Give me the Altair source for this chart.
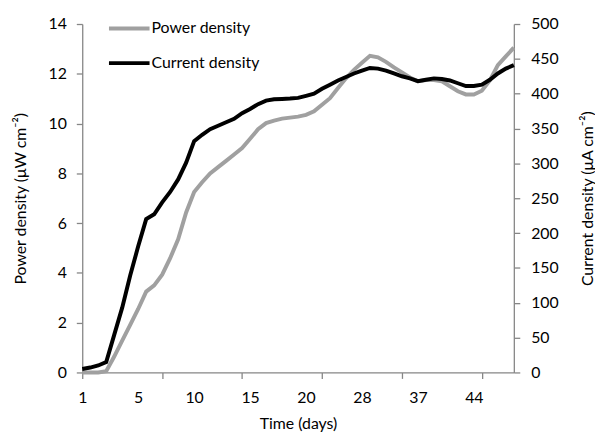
import json
import altair as alt
import pandas as pd

# ---- data ----
day_index = list(range(55))
power_density = [0, 0, 0, 0.05, 0.64, 1.28, 1.91, 2.55, 3.25, 3.5,
                 3.93, 4.59, 5.35, 6.43, 7.25, 7.64, 8.0, 8.25, 8.5, 8.76,
                 9.02, 9.39, 9.77, 10.02, 10.12, 10.2, 10.24, 10.28, 10.35, 10.49,
                 10.76, 11.02, 11.43, 11.82, 12.16, 12.44, 12.72, 12.66, 12.48, 12.26,
                 12.06, 11.85, 11.7, 11.75, 11.75, 11.7, 11.5, 11.3, 11.17, 11.17,
                 11.32, 11.73, 12.35, 12.7, 13.05]
current_density = [5, 7, 10, 15, 54, 93, 139, 181, 220, 227,
                   244, 259, 277, 301, 332, 341, 349, 354, 359, 364,
                   372, 378, 385, 390, 392, 392.5, 393, 394, 397, 400,
                   407, 413, 419, 424, 429, 433, 437, 436, 433, 429,
                   425, 422, 418, 420, 422, 421, 419, 415, 411, 411,
                   413, 420, 429, 436, 441]
label_positions = [0, 7, 14, 21, 28, 35, 42, 49]
day_labels = ["1", "5", "10", "15", "20", "28", "37", "44"]
tick_positions = [0, 10, 20, 30, 40, 50]
series_names = ["Power density", "Current density"]
series_colors = ["#a0a0a0", "#000000"]

df_p = pd.DataFrame({"idx": day_index, "value": power_density, "series": series_names[0]})
df_c = pd.DataFrame({"idx": day_index, "value": current_density, "series": series_names[1]})

axis_values = sorted(set(label_positions) | set(tick_positions))
lp = json.dumps(label_positions)
dl = json.dumps(day_labels)
tp = json.dumps(tick_positions)
label_expr = f"indexof({lp}, datum.value) >= 0 ? {dl}[indexof({lp}, datum.value)] : ''"

FONT = "Lato"

x_enc = alt.X(
    "idx:Q",
    scale=alt.Scale(domain=[0, 54], nice=False, zero=False),
    axis=alt.Axis(
        values=axis_values, labelExpr=label_expr,
        tickOpacity={"condition": {"test": f"indexof({tp}, datum.value) >= 0", "value": 1}, "value": 0},
        title="Time (days)", grid=False, labelFlush=False, labelOverlap=False,
        tickSize=6, labelPadding=11, titleX=218, titleY=52,
        titleBaseline="middle", titleAlign="center",
    ),
)

color_enc = alt.Color(
    "series:N",
    scale=alt.Scale(domain=series_names, range=series_colors),
    legend=alt.Legend(
        title=None, orient="none", legendX=25, legendY=-18,
        symbolType="stroke", symbolSize=1681, symbolStrokeWidth=4,
        labelFontSize=16, labelFont=FONT, labelColor="#000000",
        labelOffset=0, rowPadding=4, labelLimit=0,
    ),
)

power = alt.Chart(df_p).mark_line(strokeWidth=4).encode(
    x=x_enc,
    y=alt.Y(
        "value:Q",
        scale=alt.Scale(domain=[0, 14], nice=False),
        axis=alt.Axis(
            values=list(range(0, 15, 2)), orient="left", grid=False,
            title="Power density (μW cm⁻²)", tickSize=6, labelPadding=10,
            titleX=-62, titleY=176, titleAngle=270,
            titleBaseline="middle", titleAlign="center",
        ),
    ),
    color=color_enc,
)

current = alt.Chart(df_c).mark_line(strokeWidth=4).encode(
    x=x_enc,
    y=alt.Y(
        "value:Q",
        scale=alt.Scale(domain=[0, 500], nice=False),
        axis=alt.Axis(
            values=list(range(0, 501, 50)), orient="right", grid=False,
            title="Current density (μA cm⁻²)", tickSize=6, labelPadding=11,
            titleX=74, titleY=176, titleAngle=270,
            titleBaseline="middle", titleAlign="center",
        ),
    ),
    color=color_enc,
)

chart = (
    alt.layer(power, current)
    .resolve_scale(y="independent")
    .properties(
        width=436, height=352,
        padding={"left": 75, "top": 14, "right": 82, "bottom": 60},
        autosize=alt.AutoSizeParams(type="none"),
    )
    .configure_view(stroke=None)
    .configure_axis(
        labelFont=FONT, titleFont=FONT, labelFontSize=16, titleFontSize=16,
        labelColor="#000000", titleColor="#000000", titleFontWeight="normal",
        domainColor="#868686", tickColor="#868686", domainWidth=1.3, tickWidth=1.3,
    )
)

chart.save("out.html", embed_options={"renderer": "svg", "actions": False})
